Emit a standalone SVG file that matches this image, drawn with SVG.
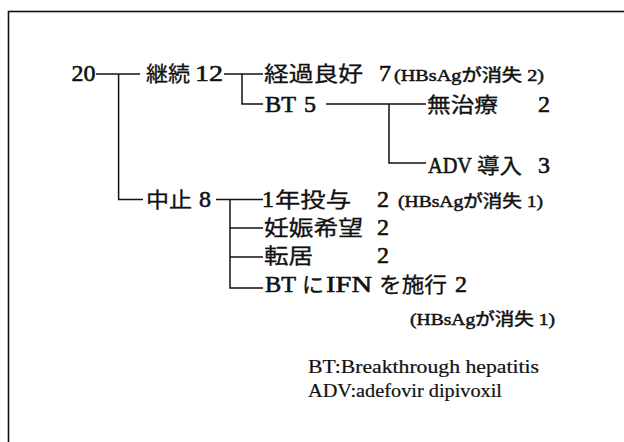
<svg xmlns="http://www.w3.org/2000/svg" width="624" height="442" viewBox="0 0 624 442">
<style>
text { font-family: "Liberation Serif", "Noto Sans CJK JP", serif; fill: #111; }
.m { font-size: 24px; stroke: #111; stroke-width: 0.6; }
.j { font-size: 21px; stroke: #111; stroke-width: 0.3; }
.s { font-size: 17px; stroke: #111; stroke-width: 0.5; }
.lg { font-size: 18px; stroke: #111; stroke-width: 0.2; }
.ln { stroke: #111; stroke-width: 1.5; fill: none; }
</style>
<rect x="0" y="0" width="624" height="442" fill="#fff"/>
<rect id="frame" x="8.5" y="11.5" width="700" height="500" fill="none" stroke="#111" stroke-width="1.6"/>
<g id="connectors" class="ln">
<path d="M96 74 H140"/>
<path d="M118.6 74 V199.5 H143"/>
<path d="M224 74 H263"/>
<path d="M242 74 V104 H263"/>
<path d="M326 104 H426"/>
<path d="M389 104 V163 H426"/>
<path d="M216 199.5 H263"/>
<path d="M230 199.5 V288 H263"/>
<path d="M230 228 H263"/>
<path d="M230 257 H263"/>
</g>
<g id="n20"><text y="81"><tspan class="m" x="71.5">20</tspan></text></g>
<g id="n-keizoku"><text y="81"><tspan class="j" x="146" textLength="44" lengthAdjust="spacingAndGlyphs">継続</tspan> <tspan class="m" x="195" textLength="28" lengthAdjust="spacingAndGlyphs">12</tspan></text></g>
<g id="n-keika"><text y="81"><tspan class="j" x="264" textLength="99" lengthAdjust="spacingAndGlyphs">経過良好</tspan> <tspan class="m" x="379">7</tspan> <tspan class="s" x="394" textLength="150" lengthAdjust="spacingAndGlyphs">(HBsAgが消失 2)</tspan></text></g>
<g id="n-bt5"><text y="112"><tspan class="m" x="265" textLength="31" lengthAdjust="spacingAndGlyphs">BT</tspan> <tspan class="m" x="304">5</tspan></text></g>
<g id="n-muchiryo"><text y="112"><tspan class="j" x="427" textLength="71" lengthAdjust="spacingAndGlyphs">無治療</tspan> <tspan class="m" x="538">2</tspan></text></g>
<g id="n-adv"><text y="173"><tspan class="m" x="428" textLength="44" lengthAdjust="spacingAndGlyphs">ADV</tspan><tspan class="j" x="477" textLength="45" lengthAdjust="spacingAndGlyphs">導入</tspan> <tspan class="m" x="538">3</tspan></text></g>
<g id="n-chushi"><text y="207"><tspan class="j" x="146" textLength="46" lengthAdjust="spacingAndGlyphs">中止</tspan> <tspan class="m" x="199">8</tspan></text></g>
<g id="n-1nen"><text y="207"><tspan class="m" x="262">1</tspan><tspan class="j" x="275" textLength="76" lengthAdjust="spacingAndGlyphs">年投与</tspan> <tspan class="m" x="377">2</tspan> <tspan class="s" x="398" textLength="145" lengthAdjust="spacingAndGlyphs">(HBsAgが消失 1)</tspan></text></g>
<g id="n-ninshin"><text y="235"><tspan class="j" x="264" textLength="99" lengthAdjust="spacingAndGlyphs">妊娠希望</tspan> <tspan class="m" x="377">2</tspan></text></g>
<g id="n-tenkyo"><text y="263"><tspan class="j" x="264" textLength="49" lengthAdjust="spacingAndGlyphs">転居</tspan> <tspan class="m" x="377">2</tspan></text></g>
<g id="n-btifn">
<text y="292"><tspan class="m" x="265" textLength="31" lengthAdjust="spacingAndGlyphs">BT</tspan> <tspan class="j" x="302" textLength="22" lengthAdjust="spacingAndGlyphs">に</tspan> <tspan class="m" x="326" textLength="46" lengthAdjust="spacingAndGlyphs">IFN</tspan> <tspan class="j" x="379" textLength="68" lengthAdjust="spacingAndGlyphs">を施行</tspan> <tspan class="m" x="455">2</tspan></text>
<text y="325"><tspan class="s" x="410" textLength="145" lengthAdjust="spacingAndGlyphs">(HBsAgが消失 1)</tspan></text>
</g>
<g id="legend">
<text class="lg" x="308" y="373" textLength="231" lengthAdjust="spacingAndGlyphs">BT:Breakthrough hepatitis</text>
<text class="lg" x="308" y="397" textLength="194" lengthAdjust="spacingAndGlyphs">ADV:adefovir dipivoxil</text>
</g>
</svg>
